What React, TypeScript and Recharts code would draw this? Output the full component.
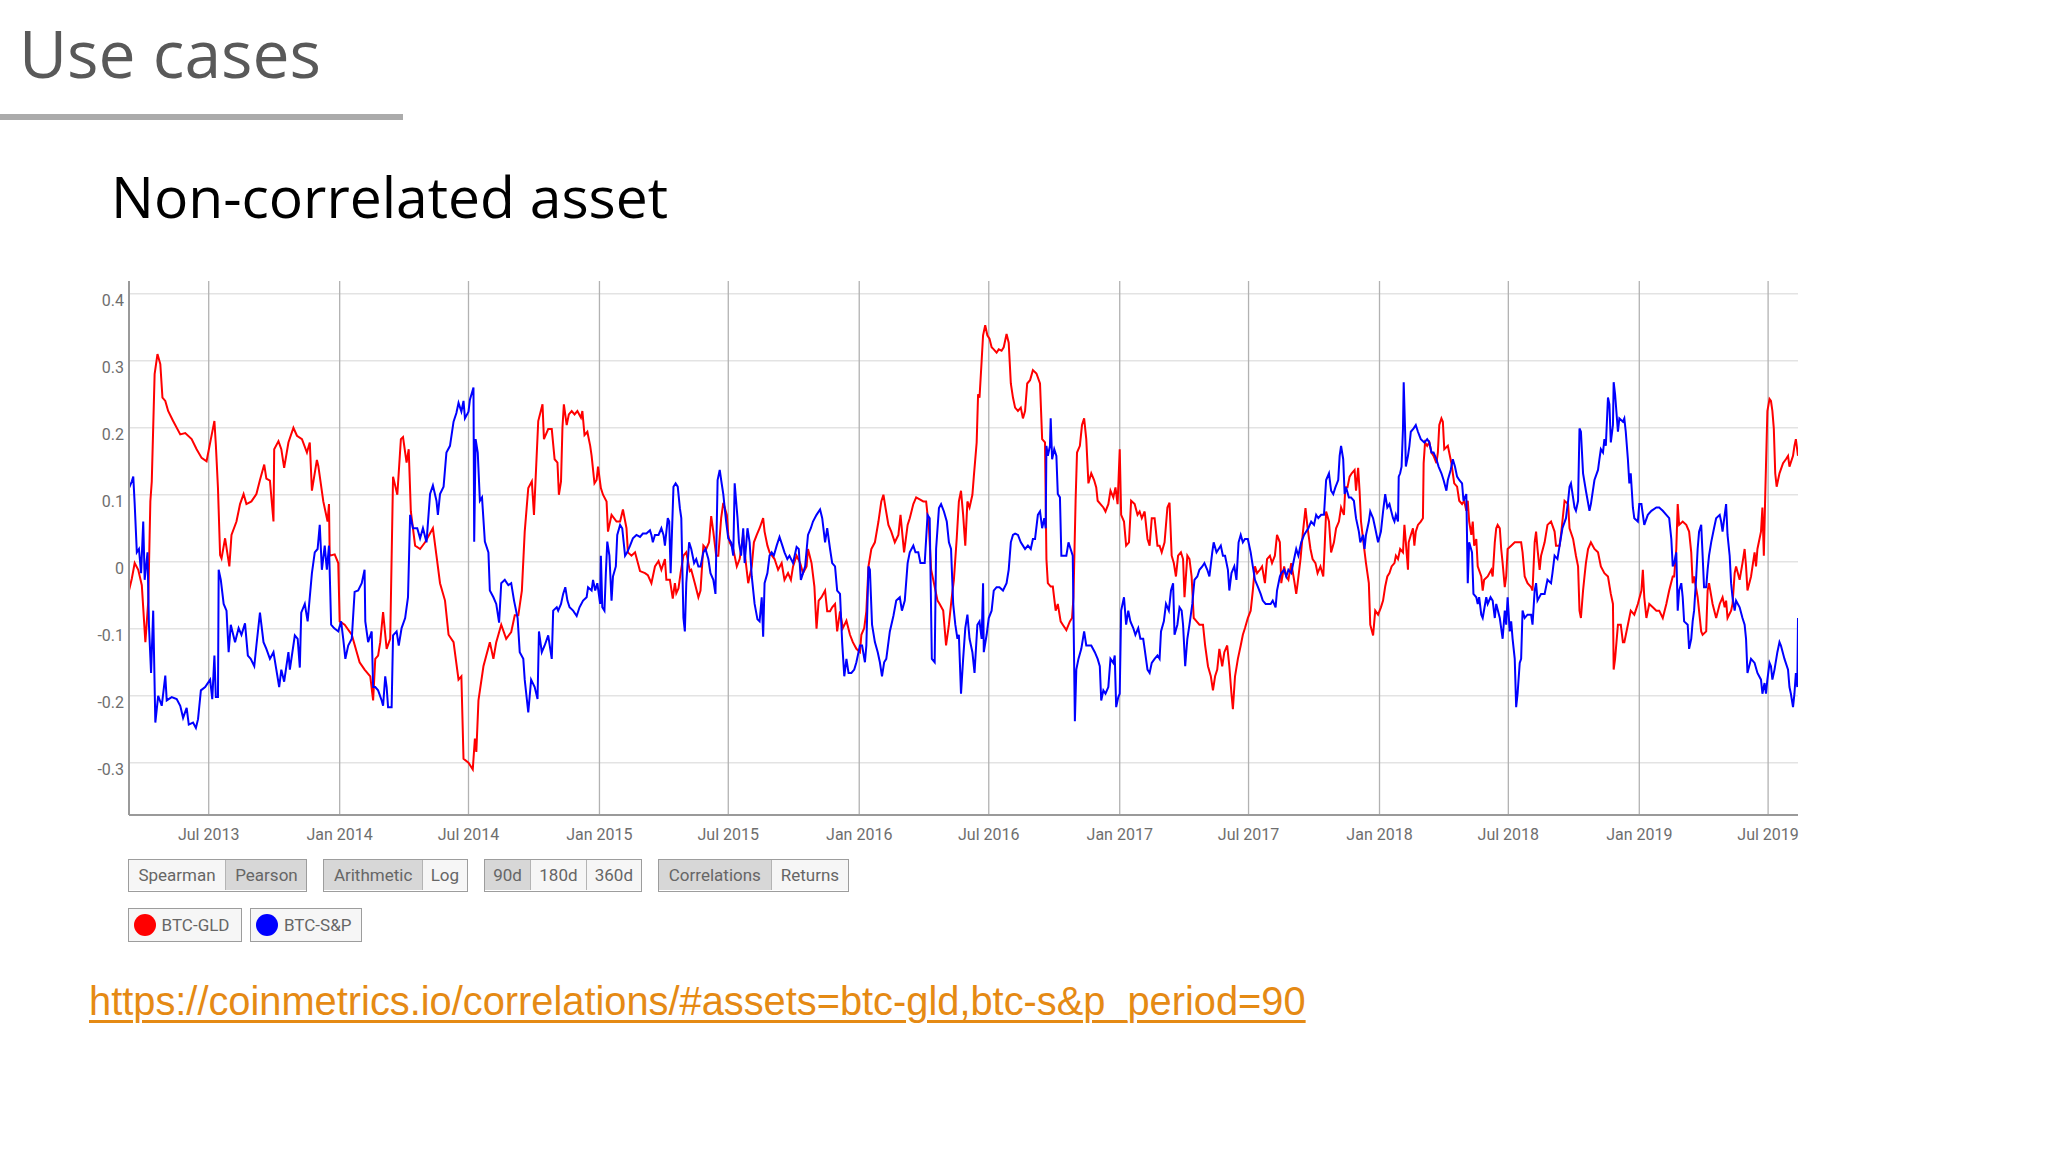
import React from "react";
import { LineChart, Line, XAxis, YAxis, CartesianGrid } from "recharts";

// 90d Pearson correlation, x = days since first observation (2013-03-11)
const btcGld: [number, number][] = [
  [0, -0.043], [4, -0.025], [8, -0.002], [13, -0.012], [18, -0.035], [23, -0.12], [25, -0.09], [27, -0.06],
  [30, 0.09], [32, 0.12], [36, 0.28], [40, 0.31], [44, 0.295], [47, 0.245], [51, 0.24], [55, 0.225], [62, 0.21],
  [72, 0.19], [79, 0.192], [88, 0.183], [95, 0.168], [102, 0.155], [109, 0.15], [115, 0.183], [120, 0.21],
  [122, 0.175], [125, 0.11], [128, 0.01], [130, 0.005], [135, 0.035], [141, -0.007], [144, 0.04], [151, 0.06],
  [156, 0.086], [161, 0.101], [165, 0.086], [172, 0.09], [179, 0.101], [184, 0.122], [190, 0.145], [193, 0.124],
  [198, 0.121], [203, 0.06], [204, 0.168], [210, 0.18], [214, 0.168], [218, 0.14], [224, 0.178], [231, 0.2],
  [236, 0.188], [243, 0.183], [250, 0.163], [254, 0.178], [257, 0.106], [264, 0.152], [266, 0.143], [273, 0.09],
  [279, 0.06], [281, 0.086], [282, 0.009], [289, 0.011], [294, -0.002], [296, -0.089], [303, -0.094],
  [313, -0.109], [320, -0.135], [324, -0.15], [331, -0.161], [339, -0.171], [343, -0.207], [346, -0.145],
  [350, -0.14], [353, -0.12], [357, -0.075], [362, -0.13], [367, -0.115], [371, 0.127], [377, 0.1], [382, 0.183],
  [385, 0.186], [390, 0.148], [393, 0.168], [396, 0.075], [402, 0.024], [409, 0.019], [416, 0.029], [427, 0.05],
  [432, 0.009], [437, -0.032], [444, -0.058], [449, -0.109], [456, -0.12], [463, -0.176], [467, -0.171],
  [470, -0.294], [477, -0.3], [483, -0.31], [486, -0.264], [488, -0.284], [491, -0.207], [498, -0.156],
  [502, -0.14], [507, -0.12], [512, -0.145], [516, -0.12], [523, -0.094], [530, -0.115], [537, -0.105],
  [542, -0.08], [547, -0.08], [552, -0.043], [556, 0.045], [561, 0.11], [566, 0.12], [569, 0.07], [575, 0.21],
  [581, 0.235], [583, 0.183], [589, 0.198], [594, 0.198], [598, 0.153], [602, 0.148], [604, 0.1], [607, 0.12],
  [609, 0.2], [611, 0.235], [615, 0.204], [618, 0.22], [622, 0.225], [626, 0.22], [630, 0.225], [635, 0.215],
  [637, 0.225], [640, 0.189], [644, 0.194], [648, 0.173], [650, 0.158], [654, 0.117], [657, 0.122], [659, 0.142],
  [663, 0.11], [666, 0.1], [671, 0.09], [673, 0.045], [678, 0.07], [685, 0.06], [690, 0.06], [694, 0.078],
  [699, 0.05], [701, 0.014], [706, 0.009], [711, 0.014], [715, -0.002], [718, -0.014], [725, -0.017],
  [729, -0.02], [734, -0.032], [739, -0.007], [744, 0.001], [748, -0.012], [753, 0.004], [755, -0.027],
  [760, -0.027], [764, -0.055], [767, -0.032], [769, -0.047], [772, -0.04], [775, -0.017], [779, 0.009],
  [783, 0.014], [788, -0.014], [790, -0.012], [795, -0.032], [800, -0.053], [803, -0.043], [807, 0.024],
  [811, 0.019], [815, 0.029], [818, 0.068], [821, 0.045], [825, 0.009], [828, 0.009], [832, 0.065], [835, 0.088],
  [840, 0.07], [842, 0.04], [844, 0.029], [849, 0.019], [854, -0.007], [858, 0.004], [863, 0.04], [865, 0.014],
  [870, -0.032], [875, -0.007], [878, 0.029], [882, 0.04], [886, 0.05], [891, 0.065], [893, 0.045], [897, 0.024],
  [900, 0.014], [907, 0.004], [912, -0.012], [917, -0.002], [921, -0.027], [926, -0.017], [930, -0.027],
  [933, -0.007], [938, 0.009], [943, -0.002], [947, -0.017], [952, -0.007], [954, 0.019], [959, -0.002],
  [963, -0.037], [966, -0.1], [969, -0.058], [973, -0.053], [978, -0.043], [981, -0.074], [985, -0.074],
  [988, -0.068], [992, -0.063], [995, -0.104], [999, -0.074], [1003, -0.099], [1008, -0.088], [1013, -0.109],
  [1017, -0.12], [1022, -0.13], [1027, -0.135], [1029, -0.109], [1033, -0.099], [1036, -0.074], [1039, -0.007],
  [1043, 0.019], [1048, 0.029], [1053, 0.06], [1057, 0.09], [1060, 0.1], [1063, 0.08], [1067, 0.055],
  [1071, 0.045], [1076, 0.029], [1081, 0.04], [1084, 0.07], [1089, 0.014], [1094, 0.055], [1097, 0.065],
  [1102, 0.086], [1106, 0.096], [1111, 0.093], [1116, 0.09], [1120, 0.09], [1124, 0.05], [1127, -0.012],
  [1131, -0.032], [1136, -0.058], [1139, -0.063], [1144, -0.073], [1148, -0.125], [1152, -0.094], [1156, -0.053],
  [1159, -0.027], [1163, 0.035], [1166, 0.09], [1169, 0.106], [1172, 0.07], [1175, 0.024], [1178, 0.09],
  [1181, 0.081], [1185, 0.1], [1187, 0.127], [1191, 0.178], [1193, 0.25], [1195, 0.245], [1198, 0.3],
  [1200, 0.338], [1203, 0.353], [1206, 0.338], [1209, 0.333], [1212, 0.32], [1215, 0.317], [1219, 0.312],
  [1222, 0.317], [1226, 0.315], [1229, 0.32], [1233, 0.34], [1236, 0.327], [1239, 0.266], [1242, 0.245],
  [1245, 0.23], [1249, 0.225], [1253, 0.23], [1256, 0.214], [1259, 0.225], [1262, 0.266], [1266, 0.271],
  [1270, 0.286], [1275, 0.281], [1280, 0.266], [1283, 0.183], [1287, 0.178], [1289, 0.004], [1291, -0.032],
  [1295, -0.037], [1298, -0.037], [1302, -0.073], [1305, -0.063], [1309, -0.089], [1312, -0.094], [1317, -0.102],
  [1322, -0.089], [1325, -0.084], [1327, -0.053], [1330, 0.091], [1332, 0.163], [1336, 0.173], [1339, 0.204],
  [1342, 0.214], [1345, 0.183], [1348, 0.117], [1352, 0.132], [1356, 0.122], [1359, 0.111], [1361, 0.091],
  [1365, 0.086], [1369, 0.081], [1372, 0.075], [1376, 0.086], [1379, 0.106], [1383, 0.096], [1386, 0.111],
  [1389, 0.086], [1392, 0.168], [1394, 0.07], [1398, 0.06], [1401, 0.024], [1405, 0.029], [1408, 0.091],
  [1413, 0.086], [1417, 0.07], [1420, 0.075], [1423, 0.065], [1427, 0.075], [1431, 0.034], [1434, 0.024],
  [1437, 0.065], [1441, 0.065], [1445, 0.024], [1448, 0.024], [1451, 0.014], [1455, 0.029], [1459, 0.081],
  [1462, 0.088], [1465, 0.009], [1468, -0.002], [1471, -0.022], [1474, 0.009], [1478, 0.014], [1481, 0.004],
  [1483, -0.053], [1487, 0.009], [1490, 0.004], [1493, -0.022], [1496, -0.084], [1500, -0.089], [1504, -0.094],
  [1509, -0.094], [1512, -0.125], [1516, -0.156], [1520, -0.171], [1523, -0.192], [1526, -0.171], [1529, -0.161],
  [1532, -0.13], [1536, -0.156], [1539, -0.135], [1543, -0.125], [1546, -0.156], [1549, -0.197], [1551, -0.22],
  [1554, -0.171], [1558, -0.145], [1562, -0.125], [1565, -0.109], [1568, -0.099], [1572, -0.084], [1576, -0.073],
  [1579, -0.043], [1582, -0.007], [1585, -0.017], [1589, -0.012], [1592, -0.007], [1596, -0.032], [1599, 0.004],
  [1603, 0.009], [1606, -0.002], [1610, 0.009], [1613, 0.04], [1617, 0.029], [1619, -0.032], [1623, -0.007],
  [1626, -0.022], [1629, -0.027], [1633, -0.002], [1637, -0.027], [1640, -0.048], [1642, -0.032], [1646, 0.004],
  [1649, 0.04], [1653, 0.08], [1656, 0.05], [1660, 0.019], [1663, 0.004], [1667, -0.002], [1670, -0.017],
  [1674, -0.007], [1678, -0.022], [1680, 0.024], [1682, 0.075], [1686, 0.06], [1689, 0.014], [1693, 0.029],
  [1696, 0.05], [1700, 0.06], [1703, 0.081], [1707, 0.07], [1709, 0.111], [1712, 0.111], [1715, 0.127],
  [1718, 0.132], [1722, 0.137], [1724, 0.106], [1727, 0.14], [1729, 0.106], [1731, 0.06], [1735, 0.024],
  [1738, -0.002], [1742, -0.032], [1744, -0.094], [1748, -0.11], [1751, -0.073], [1755, -0.079], [1759, -0.068],
  [1762, -0.058], [1765, -0.037], [1768, -0.022], [1771, -0.017], [1774, -0.007], [1778, -0.002], [1780, 0.009],
  [1783, 0.004], [1786, 0.019], [1790, 0.014], [1792, 0.055], [1794, 0.029], [1797, -0.012], [1798, 0.029],
  [1801, 0.04], [1804, 0.05], [1806, 0.024], [1808, 0.045], [1811, 0.055], [1815, 0.06], [1818, 0.065],
  [1819, 0.147], [1821, 0.178], [1824, 0.173], [1827, 0.178], [1830, 0.163], [1833, 0.158], [1837, 0.147],
  [1839, 0.163], [1841, 0.204], [1844, 0.214], [1846, 0.209], [1848, 0.168], [1853, 0.173], [1858, 0.147],
  [1862, 0.117], [1866, 0.112], [1869, 0.091], [1873, 0.086], [1876, 0.091], [1879, 0.076], [1881, 0.091],
  [1883, 0.06], [1886, 0.04], [1888, 0.06], [1890, 0.024], [1893, 0.034], [1895, -0.007], [1900, -0.022],
  [1902, -0.043], [1904, -0.027], [1909, -0.022], [1914, -0.012], [1916, -0.022], [1919, 0.029], [1921, 0.05],
  [1923, 0.055], [1926, 0.05], [1928, 0.019], [1930, -0.002], [1933, -0.038], [1935, -0.022], [1937, 0.019],
  [1942, 0.024], [1947, 0.029], [1951, 0.029], [1956, 0.029], [1958, 0.014], [1961, -0.022], [1965, -0.032],
  [1970, -0.038], [1972, -0.043], [1975, 0.029], [1977, 0.045], [1979, 0.019], [1982, -0.012], [1984, 0.009],
  [1989, 0.029], [1993, 0.055], [1998, 0.06], [2003, 0.045], [2005, 0.024], [2010, 0.024], [2012, 0.04],
  [2017, 0.091], [2022, 0.086], [2024, 0.05], [2029, 0.034], [2033, 0.009], [2036, -0.007], [2038, -0.073],
  [2040, -0.084], [2043, -0.043], [2045, -0.022], [2047, -0.002], [2050, 0.019], [2054, 0.029], [2059, 0.019],
  [2064, 0.014], [2068, -0.007], [2073, -0.017], [2078, -0.022], [2082, -0.048], [2085, -0.063], [2086, -0.161],
  [2088, -0.145], [2092, -0.094], [2096, -0.094], [2099, -0.12], [2101, -0.12], [2106, -0.094], [2110, -0.073],
  [2115, -0.079], [2120, -0.063], [2125, -0.043], [2127, -0.012], [2129, -0.053], [2132, -0.084], [2136, -0.063],
  [2141, -0.068], [2146, -0.073], [2150, -0.073], [2155, -0.084], [2160, -0.063], [2164, -0.043], [2169, -0.022],
  [2171, -0.022], [2174, 0.019], [2176, 0.086], [2178, 0.055], [2183, 0.06], [2188, 0.055], [2192, 0.045],
  [2195, 0.014], [2197, -0.032], [2199, -0.022], [2204, -0.053], [2209, -0.104], [2211, -0.109], [2216, -0.104],
  [2218, -0.043], [2220, -0.032], [2225, -0.063], [2230, -0.084], [2235, -0.063], [2239, -0.053], [2242, -0.068],
  [2244, -0.058], [2246, -0.084], [2251, -0.073], [2253, -0.063], [2256, -0.017], [2258, -0.007], [2263, -0.027],
  [2267, -0.002], [2270, 0.019], [2272, -0.007], [2274, -0.043], [2279, -0.022], [2284, 0.014], [2286, -0.007],
  [2288, 0.019], [2293, 0.045], [2295, 0.081], [2297, 0.009], [2299, 0.101], [2300, 0.142], [2302, 0.225],
  [2305, 0.243], [2307, 0.24], [2309, 0.225], [2311, 0.199], [2313, 0.132], [2315, 0.112], [2319, 0.132],
  [2324, 0.147], [2328, 0.153], [2331, 0.158], [2333, 0.142], [2338, 0.158], [2340, 0.173], [2342, 0.183],
  [2345, 0.158],
];

const btcSp: [number, number][] = [
  [0, 0.11], [4, 0.12], [6, 0.127], [8, 0.086], [11, 0.014], [14, 0.019], [17, -0.017], [20, 0.06], [22, -0.027],
  [26, 0.014], [28, -0.094], [31, -0.166], [34, -0.073], [37, -0.24], [41, -0.2], [46, -0.215], [51, -0.17],
  [53, -0.207], [60, -0.202], [67, -0.205], [72, -0.215], [76, -0.233], [81, -0.218], [84, -0.243], [90, -0.24],
  [94, -0.248], [97, -0.235], [101, -0.192], [107, -0.187], [114, -0.176], [117, -0.205], [120, -0.14],
  [122, -0.202], [125, -0.202], [126, -0.012], [129, -0.027], [133, -0.063], [137, -0.073], [140, -0.135],
  [143, -0.094], [149, -0.12], [154, -0.099], [158, -0.109], [163, -0.092], [167, -0.14], [171, -0.145],
  [176, -0.156], [179, -0.125], [184, -0.076], [189, -0.12], [193, -0.13], [198, -0.145], [203, -0.135],
  [207, -0.161], [211, -0.187], [214, -0.161], [218, -0.179], [224, -0.135], [226, -0.161], [233, -0.11],
  [237, -0.115], [240, -0.158], [242, -0.076], [247, -0.063], [251, -0.089], [257, -0.017], [261, 0.014],
  [265, 0.019], [268, 0.055], [271, -0.012], [275, 0.024], [278, -0.012], [281, 0.024], [284, -0.094],
  [288, -0.099], [294, -0.104], [298, -0.089], [301, -0.115], [304, -0.145], [308, -0.125], [313, -0.115],
  [317, -0.045], [322, -0.043], [327, -0.032], [331, -0.012], [332, -0.089], [336, -0.12], [341, -0.104],
  [343, -0.187], [346, -0.187], [350, -0.192], [355, -0.207], [357, -0.215], [360, -0.171], [362, -0.187],
  [364, -0.217], [369, -0.217], [371, -0.11], [376, -0.104], [379, -0.125], [383, -0.099], [388, -0.084],
  [392, -0.053], [395, 0.07], [399, 0.05], [405, 0.05], [409, 0.035], [413, 0.05], [418, 0.029], [423, 0.101],
  [427, 0.114], [432, 0.091], [434, 0.07], [437, 0.101], [442, 0.112], [446, 0.163], [451, 0.173], [456, 0.209],
  [460, 0.222], [463, 0.237], [467, 0.224], [470, 0.24], [472, 0.214], [477, 0.224], [479, 0.242], [484, 0.26],
  [485, 0.03], [487, 0.183], [490, 0.163], [493, 0.091], [496, 0.096], [500, 0.03], [505, 0.014], [507, -0.043],
  [512, -0.053], [516, -0.063], [520, -0.091], [523, -0.032], [528, -0.027], [533, -0.035], [537, -0.032],
  [541, -0.058], [546, -0.084], [549, -0.135], [554, -0.145], [556, -0.176], [561, -0.225], [565, -0.176],
  [570, -0.187], [574, -0.205], [576, -0.104], [580, -0.135], [584, -0.125], [589, -0.11], [594, -0.145],
  [596, -0.073], [601, -0.068], [603, -0.073], [607, -0.063], [610, -0.048], [613, -0.038], [616, -0.058],
  [619, -0.068], [624, -0.073], [629, -0.081], [633, -0.068], [638, -0.058], [643, -0.053], [645, -0.038],
  [650, -0.043], [652, -0.027], [655, -0.043], [658, -0.032], [662, -0.063], [663, 0.009], [665, -0.068],
  [668, -0.073], [670, -0.017], [672, 0.03], [675, 0.009], [678, -0.058], [680, -0.022], [684, -0.007],
  [686, 0.04], [690, 0.055], [693, 0.05], [697, 0.009], [700, 0.014], [704, 0.024], [708, 0.035], [713, 0.04],
  [718, 0.037], [722, 0.042], [727, 0.042], [732, 0.047], [734, 0.04], [736, 0.029], [739, 0.04], [744, 0.04],
  [748, 0.05], [751, 0.04], [753, 0.024], [757, 0.065], [759, 0.06], [761, -0.017], [765, 0.112], [768, 0.117],
  [771, 0.112], [774, 0.08], [776, 0.065], [779, -0.084], [781, -0.104], [783, -0.032], [787, 0.029],
  [790, 0.019], [794, -0.002], [797, 0.004], [800, -0.007], [803, -0.007], [807, 0.014], [810, 0.019],
  [814, 0.004], [817, -0.017], [821, -0.027], [824, -0.048], [827, 0.122], [830, 0.137], [832, 0.122],
  [835, 0.101], [837, 0.08], [839, 0.06], [842, 0.035], [846, 0.029], [849, 0.009], [851, 0.117], [855, 0.065],
  [857, 0.029], [860, 0.009], [863, 0.05], [865, -0.002], [869, 0.05], [872, 0.029], [875, -0.022],
  [879, -0.063], [883, -0.086], [886, -0.089], [889, -0.053], [891, -0.112], [893, -0.032], [897, -0.017],
  [900, 0.009], [903, 0.014], [906, 0.009], [910, 0.024], [914, 0.037], [918, 0.024], [921, 0.014], [925, 0.004],
  [928, 0.009], [933, -0.002], [938, 0.022], [941, 0.019], [944, -0.027], [947, -0.017], [950, -0.007],
  [954, 0.04], [958, 0.05], [961, 0.06], [966, 0.07], [971, 0.078], [974, 0.065], [978, 0.029], [981, 0.05],
  [985, 0.019], [988, -0.002], [992, -0.007], [995, -0.043], [999, -0.048], [1002, -0.12], [1005, -0.171],
  [1008, -0.145], [1011, -0.166], [1015, -0.166], [1019, -0.161], [1022, -0.15], [1027, -0.125], [1030, -0.125],
  [1034, -0.15], [1036, -0.125], [1039, -0.007], [1041, -0.012], [1044, -0.094], [1048, -0.12], [1052, -0.135],
  [1055, -0.15], [1058, -0.171], [1061, -0.15], [1064, -0.145], [1069, -0.104], [1074, -0.081], [1078, -0.058],
  [1083, -0.053], [1086, -0.073], [1090, -0.058], [1094, -0.002], [1097, 0.014], [1102, 0.024], [1105, 0.014],
  [1109, 0.014], [1112, -0.002], [1118, -0.002], [1122, 0.07], [1125, 0.065], [1128, -0.145], [1132, -0.15],
  [1134, 0.019], [1138, 0.08], [1141, 0.086], [1145, 0.075], [1149, 0.06], [1152, 0.029], [1155, 0.019],
  [1158, -0.063], [1161, -0.094], [1164, -0.115], [1166, -0.109], [1169, -0.197], [1172, -0.145], [1175, -0.099],
  [1178, -0.079], [1181, -0.115], [1185, -0.135], [1188, -0.166], [1192, -0.094], [1195, -0.089], [1198, -0.115],
  [1200, -0.032], [1201, -0.135], [1205, -0.109], [1208, -0.084], [1212, -0.073], [1215, -0.043], [1219, -0.038],
  [1223, -0.038], [1228, -0.043], [1233, -0.032], [1236, -0.012], [1239, 0.029], [1242, 0.04], [1245, 0.042],
  [1249, 0.04], [1253, 0.029], [1256, 0.024], [1259, 0.019], [1263, 0.024], [1267, 0.019], [1270, 0.034],
  [1273, 0.034], [1277, 0.07], [1280, 0.075], [1283, 0.05], [1286, 0.065], [1288, 0.05], [1289, 0.173],
  [1291, 0.158], [1294, 0.173], [1295, 0.214], [1297, 0.153], [1300, 0.168], [1303, 0.158], [1305, 0.101],
  [1308, 0.096], [1310, 0.009], [1314, 0.009], [1317, 0.009], [1320, 0.029], [1323, 0.019], [1326, 0.009],
  [1329, -0.238], [1331, -0.161], [1334, -0.145], [1338, -0.13], [1342, -0.104], [1345, -0.125], [1348, -0.125],
  [1352, -0.125], [1357, -0.135], [1361, -0.145], [1364, -0.156], [1366, -0.207], [1369, -0.192], [1372, -0.197],
  [1376, -0.187], [1379, -0.145], [1383, -0.151], [1385, -0.14], [1387, -0.217], [1390, -0.202], [1392, -0.197],
  [1394, -0.073], [1398, -0.053], [1401, -0.094], [1404, -0.073], [1407, -0.089], [1411, -0.099], [1414, -0.109],
  [1418, -0.099], [1421, -0.115], [1425, -0.115], [1427, -0.13], [1431, -0.161], [1434, -0.166], [1437, -0.151],
  [1441, -0.145], [1445, -0.14], [1448, -0.145], [1450, -0.104], [1454, -0.089], [1457, -0.063], [1461, -0.073],
  [1464, -0.043], [1467, -0.032], [1469, -0.109], [1473, -0.094], [1476, -0.068], [1479, -0.073], [1481, -0.094],
  [1484, -0.156], [1487, -0.115], [1490, -0.094], [1494, -0.063], [1497, -0.027], [1501, -0.022], [1504, -0.012],
  [1508, -0.007], [1511, -0.002], [1515, -0.012], [1518, -0.022], [1522, 0.014], [1524, 0.029], [1528, 0.014],
  [1531, 0.019], [1534, 0.024], [1537, 0.009], [1540, 0.009], [1544, -0.012], [1546, -0.043], [1549, -0.017],
  [1553, -0.007], [1556, -0.027], [1559, 0.029], [1562, 0.04], [1565, 0.029], [1568, 0.034], [1572, 0.034],
  [1576, 0.014], [1579, -0.007], [1582, -0.027], [1586, -0.037], [1590, -0.048], [1593, -0.058], [1597, -0.063],
  [1600, -0.063], [1604, -0.063], [1607, -0.058], [1611, -0.068], [1613, -0.043], [1617, -0.022], [1619, -0.017],
  [1623, -0.012], [1626, -0.022], [1629, -0.012], [1633, -0.017], [1637, 0.004], [1640, 0.019], [1643, 0.009],
  [1647, 0.029], [1651, 0.04], [1654, 0.045], [1657, 0.05], [1661, 0.06], [1665, 0.055], [1668, 0.07],
  [1671, 0.065], [1675, 0.07], [1679, 0.07], [1682, 0.122], [1686, 0.132], [1689, 0.106], [1692, 0.101],
  [1695, 0.111], [1699, 0.122], [1701, 0.158], [1703, 0.173], [1706, 0.153], [1708, 0.101], [1710, 0.111],
  [1714, 0.096], [1717, 0.096], [1721, 0.091], [1724, 0.065], [1728, 0.045], [1730, 0.029], [1734, 0.04],
  [1736, 0.019], [1738, 0.04], [1742, 0.06], [1744, 0.075], [1748, 0.065], [1751, 0.05], [1755, 0.029],
  [1759, 0.045], [1762, 0.075], [1765, 0.101], [1768, 0.081], [1771, 0.086], [1776, 0.065], [1778, 0.06],
  [1780, 0.07], [1783, 0.06], [1784, 0.127], [1786, 0.132], [1788, 0.142], [1790, 0.199], [1791, 0.268],
  [1793, 0.194], [1794, 0.142], [1797, 0.158], [1799, 0.173], [1801, 0.194], [1805, 0.199], [1808, 0.204],
  [1811, 0.194], [1815, 0.183], [1820, 0.178], [1824, 0.183], [1827, 0.178], [1830, 0.163], [1833, 0.163],
  [1837, 0.153], [1840, 0.142], [1844, 0.132], [1847, 0.122], [1851, 0.106], [1853, 0.122], [1857, 0.137],
  [1860, 0.153], [1863, 0.142], [1866, 0.127], [1869, 0.122], [1873, 0.117], [1875, 0.091], [1879, 0.101],
  [1881, -0.032], [1883, 0.029], [1887, 0.014], [1889, -0.048], [1893, -0.053], [1895, -0.063], [1897, -0.053],
  [1900, -0.079], [1902, -0.084], [1907, -0.053], [1909, -0.063], [1913, -0.053], [1916, -0.058], [1919, -0.084],
  [1921, -0.063], [1926, -0.084], [1930, -0.115], [1933, -0.073], [1935, -0.094], [1937, -0.053], [1940, -0.104],
  [1942, -0.089], [1944, -0.115], [1947, -0.145], [1949, -0.217], [1951, -0.197], [1954, -0.151], [1956, -0.145],
  [1958, -0.073], [1961, -0.084], [1965, -0.079], [1970, -0.079], [1972, -0.094], [1975, -0.043], [1977, -0.032],
  [1979, -0.058], [1984, -0.048], [1989, -0.048], [1993, -0.027], [1998, -0.032], [2000, -0.017], [2003, 0.009],
  [2007, 0.004], [2010, 0.024], [2014, 0.05], [2019, 0.065], [2022, 0.091], [2024, 0.112], [2026, 0.117],
  [2031, 0.081], [2033, 0.076], [2036, 0.091], [2038, 0.199], [2040, 0.194], [2043, 0.132], [2047, 0.106],
  [2052, 0.076], [2054, 0.086], [2059, 0.122], [2064, 0.137], [2066, 0.153], [2068, 0.168], [2071, 0.163],
  [2073, 0.183], [2075, 0.173], [2078, 0.245], [2080, 0.235], [2082, 0.178], [2085, 0.204], [2086, 0.268],
  [2088, 0.25], [2092, 0.194], [2094, 0.214], [2099, 0.209], [2101, 0.214], [2103, 0.194], [2106, 0.153],
  [2108, 0.117], [2110, 0.132], [2113, 0.081], [2115, 0.065], [2120, 0.06], [2122, 0.086], [2125, 0.086],
  [2129, 0.055], [2134, 0.07], [2139, 0.076], [2146, 0.081], [2150, 0.081], [2155, 0.076], [2160, 0.07],
  [2164, 0.065], [2167, 0.034], [2169, -0.007], [2171, -0.002], [2174, 0.014], [2176, -0.073], [2178, -0.043],
  [2181, -0.032], [2183, -0.053], [2185, -0.089], [2190, -0.094], [2192, -0.13], [2195, -0.115], [2197, -0.089],
  [2199, -0.073], [2202, -0.022], [2204, 0.019], [2206, 0.045], [2209, 0.055], [2211, 0.009], [2213, -0.038],
  [2216, -0.038], [2218, -0.012], [2220, 0.009], [2223, 0.029], [2227, 0.05], [2230, 0.065], [2235, 0.07],
  [2237, 0.06], [2239, 0.045], [2242, 0.07], [2244, 0.086], [2246, 0.04], [2249, 0.009], [2251, -0.032],
  [2253, -0.053], [2256, -0.073], [2258, -0.058], [2263, -0.068], [2267, -0.084], [2270, -0.094], [2272, -0.115],
  [2274, -0.166], [2279, -0.145], [2284, -0.151], [2288, -0.166], [2293, -0.176], [2295, -0.197], [2298, -0.181],
  [2300, -0.197], [2302, -0.176], [2305, -0.151], [2307, -0.156], [2309, -0.176], [2312, -0.161], [2316, -0.135],
  [2319, -0.12], [2321, -0.125], [2326, -0.145], [2331, -0.161], [2333, -0.187], [2335, -0.197], [2338, -0.217],
  [2340, -0.197], [2342, -0.166], [2344, -0.187], [2345, -0.084],
];

const seriesNames = ["BTC-GLD", "BTC-S&P"];
const seriesColors = ["#ff0000", "#0000ff"];

const firstDay = "2013-03-11";
const lastDay = "2019-08-12";
const tickDates = [
  "2013-07-01", "2014-01-01", "2014-07-01", "2015-01-01", "2015-07-01", "2016-01-01", "2016-07-01",
  "2017-01-01", "2017-07-01", "2018-01-01", "2018-07-01", "2019-01-01", "2019-07-01",
];
const tickLabels = [
  "Jul 2013", "Jan 2014", "Jul 2014", "Jan 2015", "Jul 2015", "Jan 2016", "Jul 2016",
  "Jan 2017", "Jul 2017", "Jan 2018", "Jul 2018", "Jan 2019", "Jul 2019",
];
const yTicks = [-0.3, -0.2, -0.1, 0, 0.1, 0.2, 0.3, 0.4];
const yDomain: [number, number] = [-0.378, 0.419];

const DAY = 86400000;
const t0 = Date.parse(firstDay);
const tEnd = Date.parse(lastDay);
const xTicks = tickDates.map((d) => Date.parse(d));
const toRows = (pts: [number, number][]) => pts.map(([d, v]) => ({ t: t0 + d * DAY, v }));
const series = [btcGld, btcSp].map((pts, i) => ({ name: seriesNames[i], color: seriesColors[i], rows: toRows(pts) }));

const tickColor = "#6e6e6e";

const XTick = (props: any) => {
  const { x, y, payload } = props;
  const idx = xTicks.indexOf(payload.value);
  return (
    <text x={x} y={y + 25} textAnchor="middle" fontSize={16} fontFamily="Roboto" fill={tickColor}>
      {tickLabels[idx]}
    </text>
  );
};

const YTick = (props: any) => {
  const { x, y, payload } = props;
  return (
    <text x={x} y={y + 12.5} textAnchor="end" fontSize={16} fontFamily="Roboto" fill={tickColor}>
      {String(payload.value)}
    </text>
  );
};

// grid only at the tick values (not at the plot edges); same linear mapping as the axes
const hLines = ({ offset }: any) =>
  yTicks.map((v) => offset.top + ((yDomain[1] - v) / (yDomain[1] - yDomain[0])) * offset.height);
const vLines = ({ offset }: any) =>
  xTicks.map((t) => offset.left + ((t - t0) / (tEnd - t0)) * offset.width);

function ButtonGroup({ left, labels, widths, selected }: { left: number; labels: string[]; widths: number[]; selected: number }) {
  return (
    <div style={{ position: "absolute", left, top: 859, height: 33, display: "flex", border: "1.5px solid #9d9d9d", boxSizing: "border-box" }}>
      {labels.map((l, i) => (
        <div
          key={l}
          style={{
            width: widths[i] - (i === 0 ? 1.5 : 0) - (i === labels.length - 1 ? 1.5 : 0),
            height: 30,
            display: "flex",
            alignItems: "center",
            justifyContent: "center",
            background: i === selected ? "#d7d7d7" : "#f6f6f6",
            borderLeft: i > 0 ? "1px solid #b4b4b4" : "none",
            boxSizing: "border-box",
            fontFamily: "Roboto",
            fontSize: 17,
            color: "#666",
          }}
        >
          {l}
        </div>
      ))}
    </div>
  );
}

export default function App() {
  return (
    <div style={{ position: "absolute", left: 0, top: 0, width: 2048, height: 1152, background: "#fff", overflow: "hidden" }}>
      <div style={{ position: "absolute", left: 19, top: 19, fontFamily: "'Open Sans'", fontSize: 66, lineHeight: "66px", color: "#595959", whiteSpace: "nowrap" }}>
        Use cases
      </div>
      <div style={{ position: "absolute", left: 0, top: 114, width: 403, height: 6, background: "#ababab" }} />
      <div style={{ position: "absolute", left: 111, top: 168, fontFamily: "'Open Sans'", fontSize: 57, lineHeight: "57px", color: "#000", whiteSpace: "nowrap" }}>
        Non-correlated asset
      </div>

      <div style={{ position: "absolute", left: 0, top: 0 }}>
        <LineChart width={1840} height={870} margin={{ top: 281, right: 42, bottom: 25, left: 89 }}>
          <CartesianGrid vertical={false} stroke="#e3e3e3" strokeWidth={1.5} horizontalCoordinatesGenerator={hLines} />
          <CartesianGrid horizontal={false} stroke="#b2b2b2" strokeWidth={1.3} verticalCoordinatesGenerator={vLines} />
          <XAxis
            dataKey="t"
            type="number"
            domain={[t0, tEnd]}
            ticks={xTicks}
            allowDataOverflow
            height={30}
            tickSize={0}
            tickMargin={0}
            tickLine={false}
            axisLine={{ stroke: "#9a9a9a", strokeWidth: 2 }}
            tick={<XTick />}
            interval={0}
          />
          <YAxis
            type="number"
            domain={yDomain}
            ticks={yTicks}
            allowDataOverflow
            width={40}
            tickSize={0}
            tickMargin={5}
            tickLine={false}
            axisLine={{ stroke: "#9a9a9a", strokeWidth: 2 }}
            tick={<YTick />}
            interval={0}
          />
          {series.map((s) => (
            <Line
              key={s.name}
              data={s.rows}
              dataKey="v"
              name={s.name}
              type="linear"
              stroke={s.color}
              strokeWidth={2}
              dot={false}
              isAnimationActive={false}
            />
          ))}
        </LineChart>
      </div>

      <ButtonGroup left={127.6} labels={["Spearman", "Pearson"]} widths={[98.4, 82.5]} selected={1} />
      <ButtonGroup left={323} labels={["Arithmetic", "Log"]} widths={[99.7, 45.9]} selected={0} />
      <ButtonGroup left={484} labels={["90d", "180d", "360d"]} widths={[46.6, 55.7, 56.7]} selected={0} />
      <ButtonGroup left={657.5} labels={["Correlations", "Returns"]} widths={[114.2, 78.1]} selected={0} />

      {series.map((s, i) => (
        <div
          key={s.name}
          style={{
            position: "absolute",
            left: i === 0 ? 127.6 : 250,
            top: 907.7,
            width: i === 0 ? 114.3 : 112.4,
            height: 34,
            border: "1.5px solid #9d9d9d",
            boxSizing: "border-box",
            background: "#f6f6f6",
            display: "flex",
            alignItems: "center",
            paddingLeft: 5,
            fontFamily: "Roboto",
            fontSize: 17,
            color: "#666",
          }}
        >
          <span style={{ width: 22, height: 22, borderRadius: 11, background: s.color, display: "inline-block", marginRight: 6 }} />
          {s.name}
        </div>
      ))}

      <div
        style={{
          position: "absolute",
          left: 89,
          top: 981,
          fontFamily: "'Liberation Sans', Arial",
          fontSize: 39.8,
          lineHeight: "40px",
          color: "#e58a14",
          textDecoration: "underline",
          textDecorationThickness: 2.5,
          textUnderlineOffset: 5,
          whiteSpace: "nowrap",
        }}
      >
        https://coinmetrics.io/correlations/#assets=btc-gld,btc-s&amp;p_period=90
      </div>
    </div>
  );
}
